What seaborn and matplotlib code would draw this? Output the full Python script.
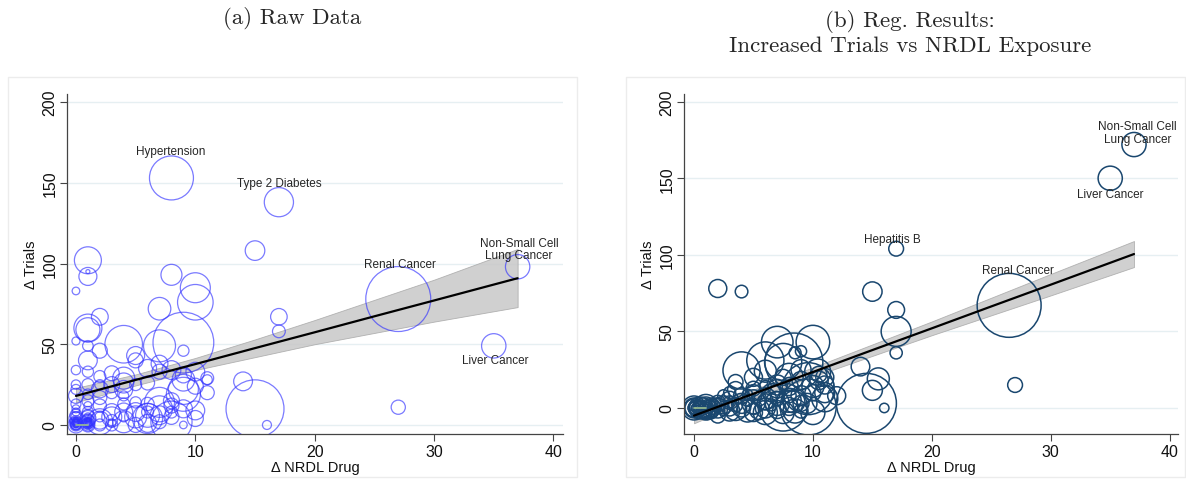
import matplotlib
matplotlib.use("Agg")
import matplotlib.pyplot as plt
import seaborn as sns
import numpy as np
import pandas as pd
from matplotlib.patches import Rectangle

# panel (a): raw data, bubble radius (px)
raw_x = [8, 17, 15, 1, 1, 1, 0, 8, 10, 10, 7, 2, 1, 1, 17, 17, 27, 37, 35, 27,
         15, 16, 14, 9, 4, 7, 9, 5, 5, 2, 1, 0, 1, 0, 1, 3, 7, 7, 8, 9,
         10, 11, 4, 0, 2, 4, 9, 9, 7, 10, 8, 8, 6, 8, 4, 2, 3, 5, 3, 5,
         7, 9, 1, 0, 1, 2, 6, 5, 0, 0, 0, 0, 0, 0, 1, 1, 1, 1, 0, 1,
         0, 0, 1, 2, 2, 3, 3, 4, 6, 6, 7, 8, 10, 11, 3, 4, 0, 2, 5,
         0, 0, 1, 1, 0, 1, 0, 1, 0, 1, 2, 3, 4, 5, 6, 7, 8, 9, 3, 4,
         6, 2, 1, 9, 10, 11, 6, 1, 2, 4,
         0, 0, 0, 0, 0, 0, 1, 1, 1, 1, 1, 1, 0, 1, 0, 1]
raw_y = [153, 138, 108, 102, 92, 95, 83, 93, 85, 76, 72, 67, 60, 59, 67, 58, 78, 98, 49, 11,
         10, 0, 27, 51, 50, 49, 46, 43, 40, 46, 49, 52, 40, 34, 33, 32, 38, 33, 34, 28,
         33, 29, 29, 25, 22, 22, 22, 19, 14, 9, 12, 5, 4, 2, 2, 2, 3, 0, 8, 8,
         6, 0, 8, 18, 19, 12, 13, 14, 0, 2, 5, 1, 3, 8, 0, 3, 1, 5, 0, 0,
         10, 13, 12, 0, 5, 0, 1, 5, 1, 8, 2, 8, 4, 28, 20, 18, 22, 25, 25,
         6, 4, 2, 4, 1, 6, 0, 1, 2, 3, 3, 5, 8, 5, 6, 10, 15, 10, 25, 26,
         26, 30, 25, 31, 24, 20, 35, 15, 17, 13,
         0, 1, 2, 0, 3, 1, 0, 2, 1, 0, 3, 4, 0, 0, 2, 1]
raw_r = [22, 14.6, 9.8, 13.5, 9, 2, 3.8, 10.5, 15, 17.8, 11.3, 8.4, 14, 12, 8.3, 6.4, 32.5, 12.2, 12.2, 7.1,
         29, 4.5, 9.4, 30.4, 18.8, 16, 5.6, 9, 7.5, 7.5, 5.3, 4, 9.4, 4.7, 5.6, 7.5, 8.4, 7.5, 9.4, 11.3,
         9.4, 6.4, 11, 4.7, 8.4, 9, 15, 17, 15, 9.4, 7.5, 7.5, 15, 20.6, 11, 13, 5.6, 7.5, 8.4, 9.4,
         9.4, 3.8, 5.6, 7.5, 5.3, 6.6, 6.6, 5.6, 8, 6, 5, 4, 3, 4, 7, 6, 5, 4, 3, 3,
         4, 5, 4, 6, 5, 6, 4, 5, 9, 6, 7, 6, 8, 5, 6, 5, 5, 5, 6,
         6, 7, 7, 8, 6, 6, 5, 4, 3, 3, 9, 10, 9, 11, 12, 13, 8, 9, 8, 10,
         7, 6, 6, 8, 8, 7, 9, 6, 7, 6,
         2, 2.5, 3, 5, 2, 3.5, 2, 3, 2.5, 4.5, 2, 3, 6, 6, 4, 4]

# panel (b): regression results
reg_x = [37, 35, 17, 26.5, 2, 4, 15, 17, 17, 17, 14, 15.5, 15, 16, 14.5, 27, 10, 7, 9, 6,
         4, 8.4, 7.5, 10.4, 9.6, 11, 7.5, 9.6, 7, 8.4, 10.5, 3.5, 5, 2, 1, 0,
         0.5, 1, 1.5, 2, 2.5, 3, 3, 3.5, 4, 4.5, 5, 5, 5.5, 6, 6, 6.5, 7, 7, 8, 8,
         9, 9, 10, 11, 10.5, 3, 4.5, 6, 7.5, 9, 8.5, 1.5, 0, 0.3,
         0, 0, 0.2, 0.5, 0.8, 1, 1.2, 1.5, 2, 2, 2.5, 3, 3, 3.5, 4, 4, 4.5, 5, 5, 5.5,
         6, 6, 6.5, 7, 7, 7.5, 8, 8, 8.5, 9, 9, 9.5, 10, 10, 11, 11, 12, 5, 6, 8, 3.5, 2.5,
         0, 0, 0.3, 0.5, 0.7, 1, 1, 0.2, 0.8, 1.3]
reg_y = [172, 150, 104, 67, 78, 76, 76, 64, 50, 36, 27, 19, 11.5, 0, 3, 15, 43, 43, 37, 31,
         24.5, 30, 30, 23.5, 12.6, 6, 0.6, 0.6, 12.6, 4, 18, 17, 12.6, -5, 0, 0,
         0, -2, 1, 2, -1, 0, 4, 2, 0, 5, 1, -3, 6, 0, 4, 2, -1, 6, 1, 8,
         3, -2, 10, 15, 22, 10, 9, 14, 20, 25, 36, -3, 0, 0,
         0, 0, 0, 0, 0, 1, -1, 0, 0, 3, 2, -2, 5, -1, 3, 8, -2, 4, 10, -1,
         6, -3, 10, 3, 15, -3, 5, 14, -2, 8, 18, 3, 14, -3, 10, 20, 8, 20, 24, 20, 12, 8,
         0, 1, -1, 0, 1, 0, -1, 0, 0, 1]
reg_r = [12.1, 12.1, 7.4, 32, 9, 6.3, 9.7, 8.4, 15, 6.1, 9.3, 11, 10, 4.7, 30, 7.4, 16.8, 15.8, 5.6, 18.6,
         18.6, 29, 18.6, 13, 26, 13, 24, 28, 9.3, 11, 9.3, 7.4, 7.4, 7.4, 11, 10,
         8, 9, 8, 7, 6, 8, 6, 7, 9, 6, 8, 9, 7, 10, 8, 6, 9, 7, 9, 7,
         8, 7, 8, 9, 8, 6, 5, 6, 8, 10, 6, 6, 6, 4,
         12, 9, 7, 11, 10, 12, 10, 9, 10, 8, 9, 10, 9, 11, 10, 8, 11, 12, 8, 10,
         11, 12, 9, 12, 10, 11, 12, 9, 12, 10, 9, 10, 11, 12, 10, 9, 9, 9, 11, 14, 8, 6,
         3, 5, 4, 6, 3, 4, 7, 8, 5, 6]

# fitted line and 95% CI
fit_x = [0, 5, 10, 15, 20, 25, 30, 37]
raw_fit = [18, 27.9, 37.7, 47.6, 57.4, 67.3, 77.1, 90.9]
raw_lo = [14, 24.5, 34, 42, 50, 57, 64, 73]
raw_hi = [23, 31.3, 41.5, 53, 65, 77.5, 90, 109]
reg_fit = [-5, 9.3, 23.5, 37.8, 52, 66.3, 80.5, 100.5]
reg_lo = [-10, 6.5, 20.5, 34, 47.5, 60.5, 73.5, 92]
reg_hi = [0, 12, 26.5, 41.5, 56.5, 72, 87.5, 109]

# short light-green dash at the origin
dash_x = [0, 1]
dash_y = [0, 0]

raw_labels = [("Hypertension", 7.9, 170), ("Type 2 Diabetes", 17.0, 150),
              ("Renal Cancer", 27.1, 100), ("Non-Small Cell\nLung Cancer", 37.1, 109),
              ("Liver Cancer", 35.1, 40)]
reg_labels = [("Non-Small Cell\nLung Cancer", 37.3, 180), ("Liver Cancer", 35.0, 140),
              ("Hepatitis B", 16.7, 110), ("Renal Cancer", 27.2, 90)]

sns.set_style("ticks")
plt.rcParams['font.family'] = ['Liberation Sans', 'DejaVu Sans']

fig = plt.figure(figsize=(11.86, 4.81), dpi=100)
ax1 = fig.add_axes([67 / 1186, 46 / 481, 496 / 1186, 340 / 481])
ax2 = fig.add_axes([684 / 1186, 46 / 481, 494 / 1186, 340 / 481])

# faint panel frames
for x0, w in [(8, 569), (626, 559)]:
    fig.patches.append(Rectangle((x0 / 1186, 3 / 481), w / 1186, 400 / 481,
                                 transform=fig.transFigure, fill=False,
                                 ec="#ececec", lw=1))


def panel(ax, xs, ys, rs, fit, lo, hi, color, lw, labels, xlim, ylim):
    df = pd.DataFrame({"x": xs, "y": ys, "w": np.array(rs) ** 2})
    wmax = df["w"].max()
    for g in [0, 50, 100, 150, 200]:
        ax.axhline(g, color="#e6eff2", lw=1, zorder=0)
    ax.fill_between(fit_x, lo, hi, color="#c8c8c8", alpha=0.85,
                    edgecolor="#a8a8a8", lw=0.6, zorder=1)
    sns.scatterplot(data=df, x="x", y="y", size="w", sizes=(0, 2.07 * wmax),
                    size_norm=(0, wmax), legend=False, ax=ax,
                    edgecolor=color, linewidth=lw, zorder=2)
    ax.collections[-1].set_facecolor("none")
    sns.lineplot(x=fit_x, y=fit, color="black", lw=1.6, ax=ax, zorder=3)
    sns.lineplot(x=dash_x, y=dash_y, color="#9bbf8f", lw=1.2, ax=ax, zorder=3)
    for name, lx, ly in labels:
        ax.text(lx, ly, name, ha="center", va="center", fontsize=8.5,
                linespacing=1.05, zorder=4)
    ax.set_xlim(*xlim)
    ax.set_ylim(*ylim)
    ax.set_xticks([0, 10, 20, 30, 40])
    ax.set_yticks([0, 50, 100, 150, 200])
    ax.tick_params(axis="both", labelsize=11.5, length=5, width=0.8,
                   color="#444444", labelcolor="#111111", pad=2)
    ax.tick_params(axis="y", labelrotation=90)
    for t in ax.get_yticklabels():
        t.set_va("center")
    ax.set_xlabel("Δ NRDL Drug", fontsize=10.5, labelpad=1, color="#111111")
    ax.set_ylabel("Δ Trials", fontsize=10.5, labelpad=3, color="#111111")
    sns.despine(ax=ax)
    for s in ["left", "bottom"]:
        ax.spines[s].set_color("#444444")
        ax.spines[s].set_linewidth(0.9)


panel(ax1, raw_x, raw_y, raw_r, raw_fit, raw_lo, raw_hi, (0.2, 0.2, 1.0, 0.65), 0.9,
      raw_labels, (-0.75, 40.8), (-5.6, 205))
panel(ax2, reg_x, reg_y, reg_r, reg_fit, reg_lo, reg_hi, "#1a476f", 1.1,
      reg_labels, (-0.84, 40.7), (-17, 205))

fig.text(292 / 1186, 1 - 18 / 481, "(a) Raw Data", family="cmr10",
         fontsize=16.5, ha="center", va="center")
fig.text(910 / 1186, 1 - 33 / 481, "(b) Reg. Results:\nIncreased Trials vs NRDL Exposure",
         family="cmr10", fontsize=16.5, ha="center", va="center", linespacing=1.25)

fig.savefig("out.png", dpi=100)
